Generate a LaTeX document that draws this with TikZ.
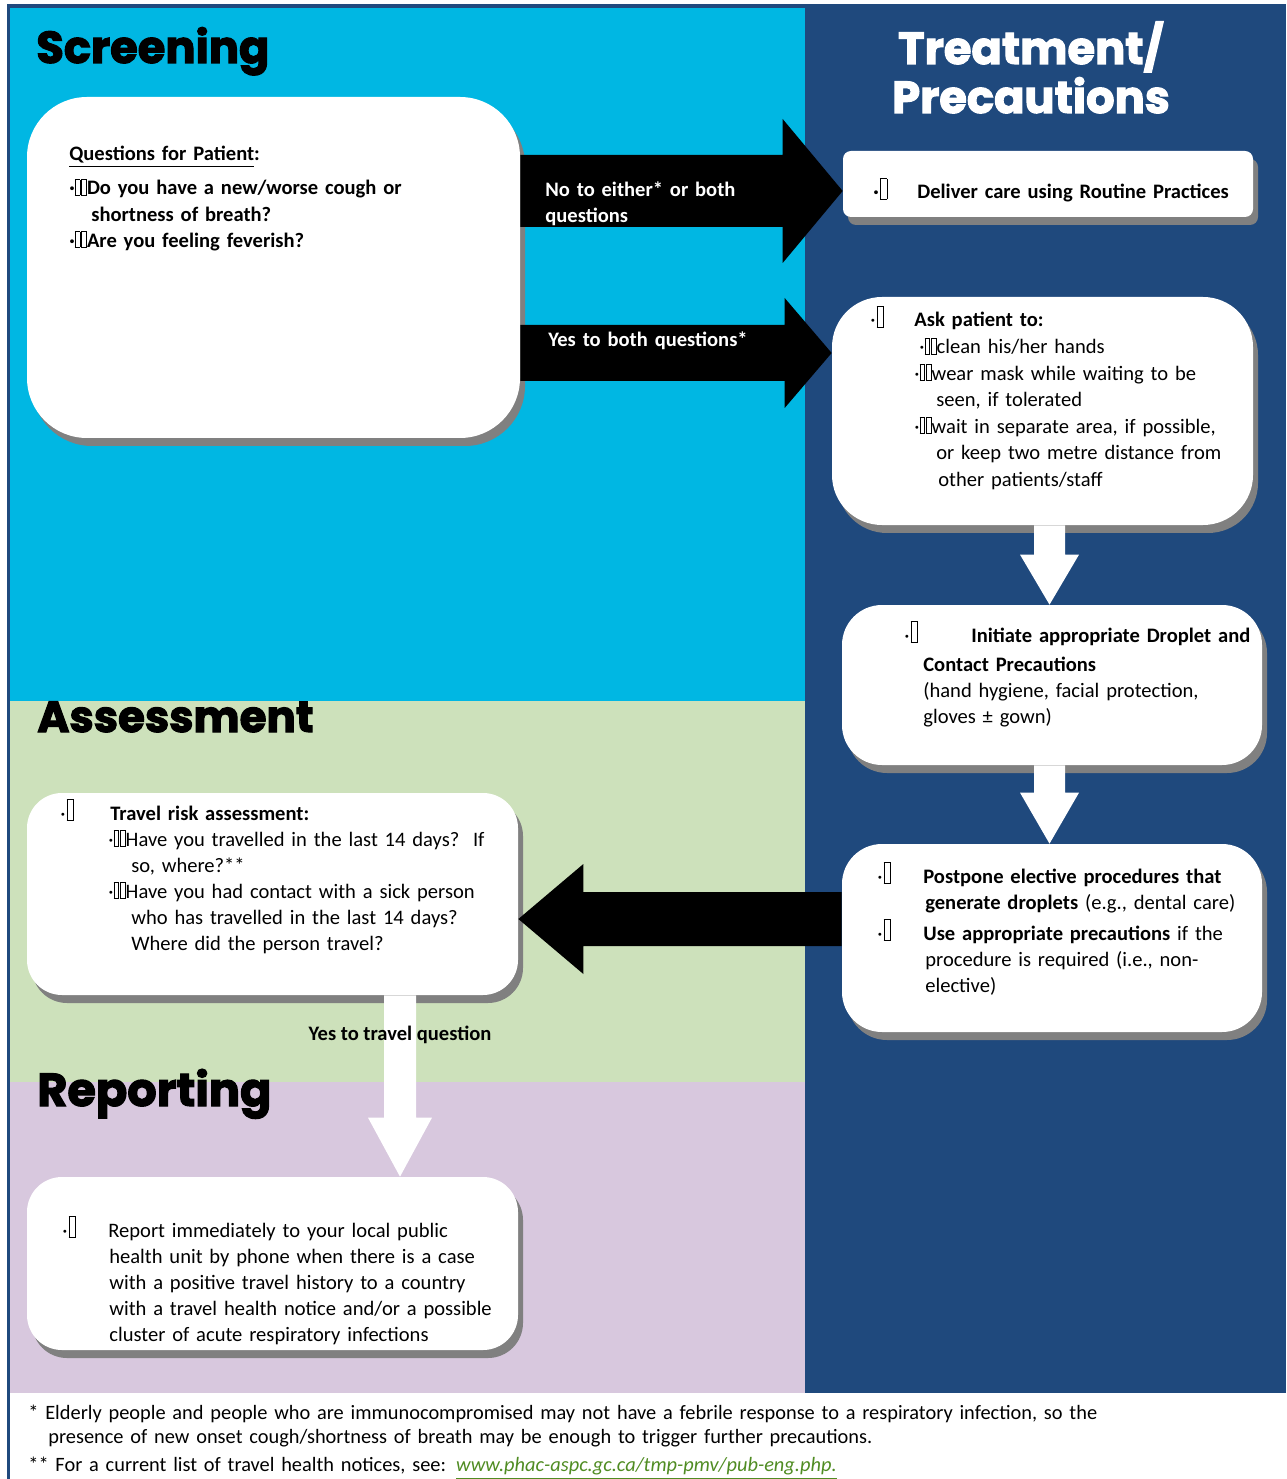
\documentclass[tikz,border=0pt]{standalone}
\usepackage{fontspec}
\setmainfont{Carlito}
\newfontfamily\headfont{Poppins}[BoldFeatures={FakeBold=2.5}]
\usepackage{xcolor}
\definecolor{screencyan}{RGB}{0,183,227}
\definecolor{treatblue}{RGB}{31,73,125}
\definecolor{assessgreen}{RGB}{205,225,187}
\definecolor{reportlilac}{RGB}{216,200,222}
\definecolor{linkgreen}{RGB}{80,140,35}
\usepackage{tikz}
\usetikzlibrary{positioning,calc,shadows}

\newlength\px
\setlength\px{0.02cm}
\setlength\fboxsep{0pt}
\setlength\fboxrule{0.45pt}
\newcommand\tofu{·\kern1\px\fbox{\rule{0pt}{20\px}\hspace{6\px}}}
\newcommand\tofuu{·\fbox{\rule{0pt}{15\px}\hspace{4\px}}\kern1\px\fbox{\rule{0pt}{15\px}\hspace{4\px}}}
\newcommand\boxfont{\fontsize{11.7}{14.8}\selectfont}

\begin{document}
\begin{tikzpicture}[x=0.02cm, y=-0.02cm,
  card/.style={fill=white, inner sep=0pt, drop shadow={shadow xshift=0.1cm, shadow yshift=-0.16cm, fill=black!50, opacity=1}},
  heading/.style={font=\headfont\bfseries\fontsize{25.5}{30}\selectfont, anchor=base west, inner sep=0pt},
  boxtext/.style={font=\boxfont, anchor=base west, inner sep=0pt, text width=470\px, align=left},
  arrowlabel/.style={font=\boxfont\bfseries, text=white, anchor=base west, inner sep=0pt, text width=250\px, align=left},
  fatarrow/.style={fill=black},
  downarrow/.style={fill=white}
]
\useasboundingbox (0,0) rectangle (1286,1479);

% panels
\fill[treatblue] (7,4) rectangle (1286,1393);
\fill[treatblue] (7,1393) rectangle (10,1479);
\fill[screencyan] (10,8) rectangle (805,701);
\fill[assessgreen] (10,701) rectangle (805,1082);
\fill[reportlilac] (10,1082) rectangle (805,1393);

\node[heading] (hscr) at (36,63) {Screening};
\node[heading, text=white, anchor=base] (htreat) at (1031,64) {Treatment/};
\node[heading, text=white, anchor=base] (hprec) at (1031,113) {Precautions};
\node[heading, font=\headfont\bfseries\fontsize{24.8}{30}\selectfont] (hass) at (37,732) {Assessment};
\node[heading, font=\headfont\bfseries\fontsize{26.3}{30}\selectfont] (hrep) at (37,1106) {Reporting};

% cards
\node[card, minimum width=493\px, minimum height=341\px, rounded corners=1.2cm] (scr) at (273.5,267.5) {};
\node[card, minimum width=410\px, minimum height=66\px, rounded corners=0.16cm] (dlv) at (1048,184) {};
\node[card, minimum width=421\px, minimum height=228\px, rounded corners=1cm] (ask) at (1042.5,411) {};
\node[card, minimum width=420\px, minimum height=160\px, rounded corners=0.8cm] (ini) at (1052,685) {};
\node[card, minimum width=420\px, minimum height=188\px, rounded corners=0.8cm] (ppn) at (1052,938) {};
\node[card, minimum width=491\px, minimum height=202\px, rounded corners=0.7cm] (trv) at (272.5,894) {};
\node[card, minimum width=491\px, minimum height=173\px, rounded corners=0.7cm] (rpt) at (272.5,1263.5) {};

% arrows
\coordinate (noS) at (scr.east |- 0,191);
\coordinate (noT) at (dlv.west |- 0,191);
\fill[fatarrow] ($(noS)+(0,-36)$) -| ($(noT)+(-60,-72)$) -- (noT) -- ($(noT)+(-60,72)$) |- ($(noS)+(0,36)$) -- cycle;
\coordinate (yesS) at (scr.east |- 0,353);
\coordinate (yesT) at (ask.west |- 0,353);
\fill[fatarrow] ($(yesS)+(0,-28)$) -| ($(yesT)+(-47,-55)$) -- (yesT) -- ($(yesT)+(-47,55)$) |- ($(yesS)+(0,28)$) -- cycle;
\coordinate (trvS) at (ppn.west |- 0,919);
\coordinate (trvT) at (trv.east |- 0,919);
\fill[fatarrow] ($(trvS)+(0,-27)$) -| ($(trvT)+(65,-55)$) -- (trvT) -- ($(trvT)+(65,55)$) |- ($(trvS)+(0,27)$) -- cycle;

\coordinate (askS) at (1049.5,0 |- ask.south);
\coordinate (iniT) at (1049.5,0 |- ini.north);
\fill[downarrow] ($(askS)+(-15.5,0)$) |- ($(iniT)+(-29.5,-50)$) -- (iniT) -- ($(iniT)+(29.5,-50)$) -| ($(askS)+(15.5,0)$) -- cycle;
\coordinate (iniS) at (1049.5,0 |- ini.south);
\coordinate (ppnT) at (1049.5,0 |- ppn.north);
\fill[downarrow] ($(iniS)+(-15.5,0)$) |- ($(ppnT)+(-29.5,-51)$) -- (ppnT) -- ($(ppnT)+(29.5,-51)$) -| ($(iniS)+(15.5,0)$) -- cycle;
\coordinate (trvB) at (400,0 |- trv.south);
\coordinate (rptT) at (400,0 |- rpt.north);
\fill[downarrow] ($(trvB)+(-16,0)$) |- ($(rptT)+(-32,-59)$) -- (rptT) -- ($(rptT)+(32,-59)$) -| ($(trvB)+(16,0)$) -- cycle;

% texts
\node[boxtext, font=\boxfont\bfseries] (scrtxt) at (69,161) {\underline{Questions for Patient}:\\[8\px]
\tofuu Do you have a new/worse cough or\\
\hspace*{22\px}shortness of breath?\\
\tofuu Are you feeling feverish?};

\node[arrowlabel] (nolbl) at (545,197) {No to either* or both\\questions};
\node[arrowlabel] (yeslbl) at (548,347) {Yes to both questions*};

\node[boxtext, font=\boxfont\bfseries] (dlvtxt) at (873,199) {\makebox[44\px][l]{\tofu}Deliver care using Routine Practices};

\node[boxtext, font=\fontsize{11.7}{15.1}\selectfont] (asktxt) at (870,327) {\makebox[44\px][l]{\tofu}\textbf{Ask patient to:}\\
\hspace*{49\px}\tofuu clean his/her hands\\
\hspace*{44\px}\tofuu wear mask while waiting to be\\
\hspace*{66\px}seen, if tolerated\\
\hspace*{44\px}\tofuu wait in separate area, if possible,\\
\hspace*{66\px}or keep two metre distance from\\
\hspace*{68\px}other patients/staff};

\node[boxtext] (initxt) at (904,642) {\makebox[67\px][l]{\tofu}\textbf{Initiate appropriate Droplet and}\\[3\px]
\hspace*{19\px}\textbf{Contact Precautions}\\
\hspace*{19\px}(hand hygiene, facial protection,\\
\hspace*{19\px}gloves ± gown)};

\node[boxtext] (ppntxt) at (877,883) {\makebox[46\px][l]{\tofu}\textbf{Postpone elective procedures that}\\
\hspace*{48\px}\textbf{generate droplets} (e.g., dental care)\\[5\px]
\makebox[46\px][l]{\tofu}\textbf{Use appropriate precautions} if the\\
\hspace*{48\px}procedure is required (i.e., non-\\
\hspace*{48\px}elective)};

\node[boxtext] (trvtxt) at (60,820) {\makebox[50\px][l]{\tofu}\textbf{Travel risk assessment:}\\
\hspace*{48\px}\tofuu Have you travelled in the last 14 days?\ \ If\\
\hspace*{71\px}so, where?**\\
\hspace*{48\px}\tofuu Have you had contact with a sick person\\
\hspace*{71\px}who has travelled in the last 14 days?\\
\hspace*{71\px}Where did the person travel?};

\node[font=\boxfont\bfseries, anchor=base, inner sep=0pt] (trvlbl) at (400,1040) {Yes to travel question};

\node[boxtext] (rpttxt) at (62,1237) {\makebox[46\px][l]{\tofu}Report immediately to your local public\\
\hspace*{47\px}health unit by phone when there is a case\\
\hspace*{47\px}with a positive travel history to a country\\
\hspace*{47\px}with a travel health notice and/or a possible\\
\hspace*{47\px}cluster of acute respiratory infections};

% footnotes
\node[boxtext, text width=1250\px, font=\fontsize{11.6}{14.2}\selectfont] (foot) at (28,1419) {* Elderly people and people who are immunocompromised may not have a febrile response to a respiratory infection, so the\\
\hspace*{20\px}presence of new onset cough/shortness of breath may be enough to trigger further precautions.\\[3\px]
** For a current list of travel health notices, see: \textcolor{linkgreen}{\textit{\underline{www.phac-aspc.gc.ca/tmp-pmv/pub-eng.php.}}}};
\end{tikzpicture}
\end{document}
